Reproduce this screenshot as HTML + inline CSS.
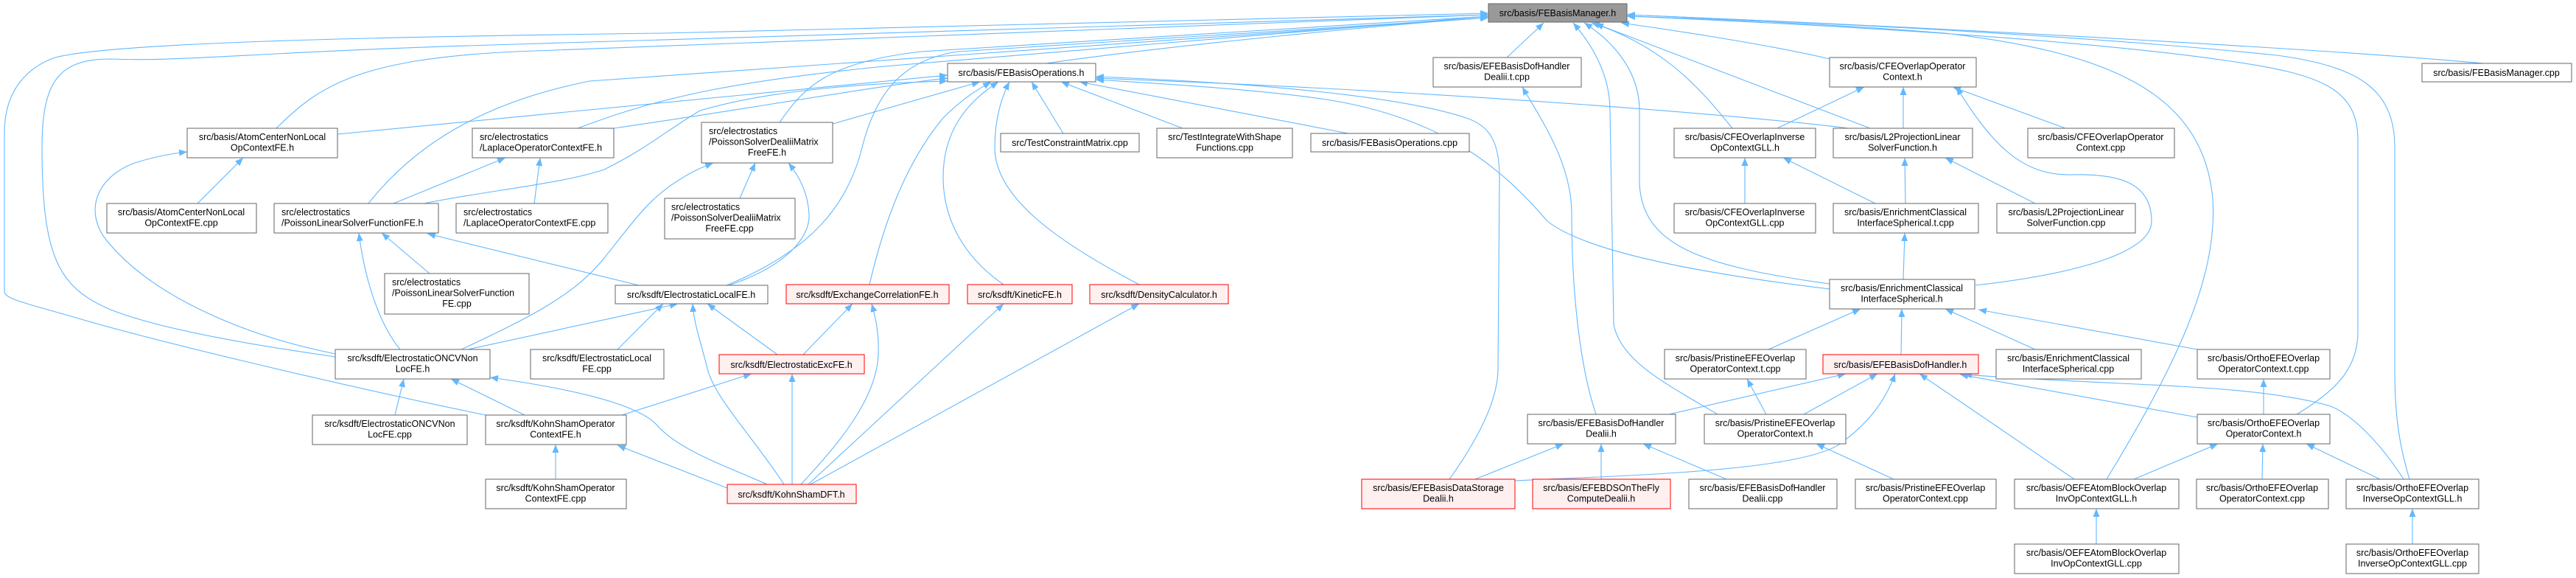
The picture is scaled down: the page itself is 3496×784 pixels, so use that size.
<!DOCTYPE html>
<html><head><meta charset="utf-8"><style>
html,body{margin:0;padding:0;background:#fff;}
svg{display:block;}
text{font-family:"Liberation Sans",Arial,sans-serif;font-size:12.5px;fill:#000;}
.n{fill:#fff;stroke:#666;stroke-width:1;}
.r{fill:#fff0f0;stroke:#f00;stroke-width:1;}
.g{fill:#999;stroke:#666;stroke-width:1;}
path.e{fill:none;stroke:#63b8ff;stroke-width:1.1;marker-end:url(#a);}
</style></head><body>
<svg width="3496" height="784" viewBox="0 0 3496 784" xmlns="http://www.w3.org/2000/svg">
<defs><marker id="a" markerUnits="userSpaceOnUse" markerWidth="12" markerHeight="9" refX="11" refY="4.5" orient="auto"><path d="M0,0 L11,4.5 L0,9 z" fill="#63b8ff"/></marker></defs>

<!-- edges to FEBasisManager.h -->
<path class="e" d="M1420,86 C1600,60 1900,32 2020,24"/>
<path class="e" d="M2045,78 L2095,31"/>
<path class="e" d="M2483,80 C2400,60 2250,38 2200,31"/>
<path class="e" d="M3370,86 C3200,70 2700,40 2208,20"/>
<path class="e" d="M375,174 C430,120 480,80 700,70 L2020,20"/>
<path class="e" d="M784,174 C900,130 1000,110 1200,90 L2020,22"/>
<path class="e" d="M1058,166 C1090,120 1120,85 1250,70 L2020,22"/>
<path class="e" d="M500,276 C560,200 650,140 800,110 L2020,24"/>
<path class="e" d="M986,387 C1100,340 1150,280 1170,200 C1190,120 1230,80 1300,70 L2020,24"/>
<path class="e" d="M455,484 C300,462 200,440 150,420 C80,390 57,350 57,200 C57,110 80,80 150,80 C250,84 350,70 700,60 L2020,20"/>
<path class="e" d="M659,563 C450,520 200,460 100,430 C30,410 6,405 6,395 L6,180 C6,120 40,90 75,78 C150,58 500,50 900,45 L2020,18"/>
<path class="e" d="M2351,174 C2300,110 2250,60 2160,31"/>
<path class="e" d="M2538,174 L2165,32"/>
<path class="e" d="M2483,385 C2300,360 2230,330 2225,250 L2225,150 C2225,90 2180,50 2150,31"/>
<path class="e" d="M2331,562 C2260,520 2200,490 2190,440 L2185,150 C2185,100 2160,60 2135,31"/>
<path class="e" d="M3117,562 C3170,530 3200,500 3200,450 L3200,190 C3200,120 3150,100 3020,82 C2800,50 2400,30 2208,22"/>
<path class="e" d="M3270,650 C3255,600 3250,560 3250,500 L3250,200 C3250,120 3200,90 3090,75 C2800,45 2400,28 2208,20"/>
<path class="e" d="M2859,650 C2950,500 3010,380 3003,270 C2990,120 2850,70 2640,45 C2450,30 2300,25 2208,22"/>

<!-- edges to FEBasisOperations.h -->
<path class="e" d="M458,182 L1286,102"/>
<path class="e" d="M833,174 C1000,150 1200,115 1286,106"/>
<path class="e" d="M1130,168 L1330,111"/>
<path class="e" d="M576,276 C650,260 760,250 820,230 C880,200 900,180 950,150 C1050,120 1200,112 1286,110"/>
<path class="e" d="M1180,386 C1200,300 1230,220 1280,160 C1310,130 1330,120 1345,111"/>
<path class="e" d="M1362,386 C1310,350 1280,300 1280,240 C1280,180 1310,140 1355,111"/>
<path class="e" d="M1546,386 C1440,330 1350,270 1350,200 C1350,160 1360,130 1370,111"/>
<path class="e" d="M1443,181 L1400,111"/>
<path class="e" d="M1605,174 L1440,111"/>
<path class="e" d="M1830,181 L1465,111"/>
<path class="e" d="M1967,650 C2010,590 2033,540 2033,500 L2035,240 C2035,190 2020,170 1990,160 C1900,130 1700,112 1487,104"/>
<path class="e" d="M2509,174 C2400,160 2000,125 1487,106"/>
<path class="e" d="M2483,392 C2300,370 2150,340 2100,300 C2040,230 1960,160 1800,135 C1700,120 1550,112 1487,108"/>

<!-- other edges -->
<path class="e" d="M268,276 L330,214"/>
<path class="e" d="M455,480 C330,455 200,400 140,320 C115,280 135,240 180,222 C210,212 235,208 254,206"/>
<path class="e" d="M534,276 L686,214"/>
<path class="e" d="M725,276 L733,214"/>
<path class="e" d="M583,371 L518,316"/>
<path class="e" d="M543,474 C515,440 495,380 487,316"/>
<path class="e" d="M867,387 L580,317"/>
<path class="e" d="M1004,269 L1025,221"/>
<path class="e" d="M626,474 C720,430 780,400 820,350 C860,300 880,270 920,245 C940,232 955,226 968,221"/>
<path class="e" d="M989,387 C1070,360 1100,320 1098,290 C1096,260 1085,240 1070,221"/>
<path class="e" d="M635,474 L920,412"/>
<path class="e" d="M838,474 L900,412"/>
<path class="e" d="M1055,481 L960,412"/>
<path class="e" d="M1064,657 C1020,590 970,540 960,500 C950,460 942,440 940,412"/>
<path class="e" d="M1090,481 L1157,412"/>
<path class="e" d="M1087,657 C1140,600 1190,540 1192,480 C1193,450 1188,430 1183,412"/>
<path class="e" d="M1075,657 L1075,507"/>
<path class="e" d="M844,563 L1020,507"/>
<path class="e" d="M1097,657 L1362,412"/>
<path class="e" d="M1100,657 L1546,412"/>
<path class="e" d="M536,563 L548,514"/>
<path class="e" d="M712,563 L612,514"/>
<path class="e" d="M1041,657 C980,630 920,610 890,575 C860,545 760,525 665,512"/>
<path class="e" d="M754,650 L754,603"/>
<path class="e" d="M987,662 L838,604"/>
<path class="e" d="M2166,562 C2145,500 2133,400 2133,290 C2133,220 2090,160 2066,118"/>
<path class="e" d="M2412,174 L2530,118"/>
<path class="e" d="M2583,174 L2583,118"/>
<path class="e" d="M2803,174 L2650,118"/>
<path class="e" d="M2681,387 C2830,370 2920,340 2920,300 C2920,250 2880,235 2810,237 C2740,238 2700,190 2655,118"/>
<path class="e" d="M2368,276 L2368,214"/>
<path class="e" d="M2545,276 L2420,214"/>
<path class="e" d="M2586,276 L2585,214"/>
<path class="e" d="M2762,276 L2640,214"/>
<path class="e" d="M2583,379 L2585,316"/>
<path class="e" d="M2400,474 L2525,419"/>
<path class="e" d="M2580,481 L2581,419"/>
<path class="e" d="M2762,474 L2640,419"/>
<path class="e" d="M2982,474 L2685,420"/>
<path class="e" d="M2265,562 L2505,507"/>
<path class="e" d="M2448,562 L2548,507"/>
<path class="e" d="M2056,652 C2200,645 2450,640 2500,600 C2540,570 2560,540 2572,507"/>
<path class="e" d="M2815,650 L2605,507"/>
<path class="e" d="M2982,566 L2660,508"/>
<path class="e" d="M3262,650 C3230,600 3190,560 3160,550 C3050,520 2900,525 2665,508"/>
<path class="e" d="M2397,562 L2371,514"/>
<path class="e" d="M2002,650 L2122,602"/>
<path class="e" d="M2173,650 L2173,602"/>
<path class="e" d="M2343,650 L2230,602"/>
<path class="e" d="M2570,650 L2465,602"/>
<path class="e" d="M3072,562 L3072,514"/>
<path class="e" d="M2896,650 L3010,602"/>
<path class="e" d="M3070,650 L3071,602"/>
<path class="e" d="M3230,650 L3130,602"/>
<path class="e" d="M2845,738 L2845,690"/>
<path class="e" d="M3274,738 L3274,690"/>

<!-- nodes -->
<rect class="g" x="2020" y="5" width="188" height="25"/><text x="2114" y="22" text-anchor="middle">src/basis/FEBasisManager.h</text>
<rect class="n" x="1286" y="86" width="201" height="25"/><text x="1386" y="103" text-anchor="middle">src/basis/FEBasisOperations.h</text>
<rect class="n" x="1945" y="78" width="201" height="40"/><text x="2045" y="94" text-anchor="middle">src/basis/EFEBasisDofHandler</text><text x="2045" y="108.5" text-anchor="middle">Dealii.t.cpp</text>
<rect class="n" x="2483" y="78" width="199" height="40"/><text x="2582" y="94" text-anchor="middle">src/basis/CFEOverlapOperator</text><text x="2582" y="108.5" text-anchor="middle">Context.h</text>
<rect class="n" x="3287" y="86" width="203" height="25"/><text x="3388" y="103" text-anchor="middle">src/basis/FEBasisManager.cpp</text>
<rect class="n" x="254" y="174" width="204" height="40"/><text x="356" y="190" text-anchor="middle">src/basis/AtomCenterNonLocal</text><text x="356" y="204.5" text-anchor="middle">OpContextFE.h</text>
<rect class="n" x="641" y="174" width="192" height="40"/><text x="651" y="190">src/electrostatics</text><text x="651" y="204.5">/LaplaceOperatorContextFE.h</text>
<rect class="n" x="952" y="166" width="178" height="55"/><text x="962" y="182">src/electrostatics</text><text x="962" y="196.5">/PoissonSolverDealiiMatrix</text><text x="1041" y="211" text-anchor="middle">FreeFE.h</text>
<rect class="n" x="1358" y="181" width="188" height="25"/><text x="1452" y="198" text-anchor="middle">src/TestConstraintMatrix.cpp</text>
<rect class="n" x="1570" y="174" width="184" height="40"/><text x="1662" y="190" text-anchor="middle">src/TestIntegrateWithShape</text><text x="1662" y="204.5" text-anchor="middle">Functions.cpp</text>
<rect class="n" x="1779" y="181" width="215" height="25"/><text x="1886" y="198" text-anchor="middle">src/basis/FEBasisOperations.cpp</text>
<rect class="n" x="2272" y="174" width="192" height="40"/><text x="2368" y="190" text-anchor="middle">src/basis/CFEOverlapInverse</text><text x="2368" y="204.5" text-anchor="middle">OpContextGLL.h</text>
<rect class="n" x="2488" y="174" width="189" height="40"/><text x="2582" y="190" text-anchor="middle">src/basis/L2ProjectionLinear</text><text x="2582" y="204.5" text-anchor="middle">SolverFunction.h</text>
<rect class="n" x="2752" y="174" width="199" height="40"/><text x="2851" y="190" text-anchor="middle">src/basis/CFEOverlapOperator</text><text x="2851" y="204.5" text-anchor="middle">Context.cpp</text>
<rect class="n" x="145" y="276" width="203" height="40"/><text x="246" y="292" text-anchor="middle">src/basis/AtomCenterNonLocal</text><text x="246" y="306.5" text-anchor="middle">OpContextFE.cpp</text>
<rect class="n" x="372" y="276" width="223" height="40"/><text x="382" y="292">src/electrostatics</text><text x="382" y="306.5">/PoissonLinearSolverFunctionFE.h</text>
<rect class="n" x="619" y="276" width="206" height="40"/><text x="629" y="292">src/electrostatics</text><text x="629" y="306.5">/LaplaceOperatorContextFE.cpp</text>
<rect class="n" x="902" y="269" width="177" height="55"/><text x="911" y="285">src/electrostatics</text><text x="911" y="299.5">/PoissonSolverDealiiMatrix</text><text x="990" y="314" text-anchor="middle">FreeFE.cpp</text>
<rect class="n" x="2272" y="276" width="192" height="40"/><text x="2368" y="292" text-anchor="middle">src/basis/CFEOverlapInverse</text><text x="2368" y="306.5" text-anchor="middle">OpContextGLL.cpp</text>
<rect class="n" x="2488" y="276" width="197" height="40"/><text x="2586" y="292" text-anchor="middle">src/basis/EnrichmentClassical</text><text x="2586" y="306.5" text-anchor="middle">InterfaceSpherical.t.cpp</text>
<rect class="n" x="2710" y="276" width="188" height="40"/><text x="2804" y="292" text-anchor="middle">src/basis/L2ProjectionLinear</text><text x="2804" y="306.5" text-anchor="middle">SolverFunction.cpp</text>
<rect class="n" x="522" y="371" width="196" height="55"/><text x="532" y="387">src/electrostatics</text><text x="532" y="401.5">/PoissonLinearSolverFunction</text><text x="620" y="416" text-anchor="middle">FE.cpp</text>
<rect class="n" x="2483" y="379" width="197" height="40"/><text x="2581" y="395" text-anchor="middle">src/basis/EnrichmentClassical</text><text x="2581" y="409.5" text-anchor="middle">InterfaceSpherical.h</text>
<rect class="n" x="835" y="387" width="207" height="25"/><text x="938" y="404" text-anchor="middle">src/ksdft/ElectrostaticLocalFE.h</text>
<rect class="r" x="1067" y="386" width="221" height="26"/><text x="1177" y="404" text-anchor="middle">src/ksdft/ExchangeCorrelationFE.h</text>
<rect class="r" x="1313" y="386" width="142" height="26"/><text x="1384" y="404" text-anchor="middle">src/ksdft/KineticFE.h</text>
<rect class="r" x="1479" y="386" width="188" height="26"/><text x="1573" y="404" text-anchor="middle">src/ksdft/DensityCalculator.h</text>
<rect class="n" x="455" y="474" width="210" height="40"/><text x="560" y="490" text-anchor="middle">src/ksdft/ElectrostaticONCVNon</text><text x="560" y="504.5" text-anchor="middle">LocFE.h</text>
<rect class="n" x="720" y="474" width="181" height="40"/><text x="810" y="490" text-anchor="middle">src/ksdft/ElectrostaticLocal</text><text x="810" y="504.5" text-anchor="middle">FE.cpp</text>
<rect class="n" x="2259" y="474" width="192" height="40"/><text x="2355" y="490" text-anchor="middle">src/basis/PristineEFEOverlap</text><text x="2355" y="504.5" text-anchor="middle">OperatorContext.t.cpp</text>
<rect class="n" x="2709" y="474" width="197" height="40"/><text x="2807" y="490" text-anchor="middle">src/basis/EnrichmentClassical</text><text x="2807" y="504.5" text-anchor="middle">InterfaceSpherical.cpp</text>
<rect class="n" x="2982" y="474" width="180" height="40"/><text x="3072" y="490" text-anchor="middle">src/basis/OrthoEFEOverlap</text><text x="3072" y="504.5" text-anchor="middle">OperatorContext.t.cpp</text>
<rect class="r" x="976" y="481" width="197" height="26"/><text x="1074" y="499" text-anchor="middle">src/ksdft/ElectrostaticExcFE.h</text>
<rect class="r" x="2474" y="481" width="211" height="26"/><text x="2579" y="499" text-anchor="middle">src/basis/EFEBasisDofHandler.h</text>
<rect class="n" x="424" y="563" width="210" height="40"/><text x="529" y="579" text-anchor="middle">src/ksdft/ElectrostaticONCVNon</text><text x="529" y="593.5" text-anchor="middle">LocFE.cpp</text>
<rect class="n" x="659" y="563" width="191" height="40"/><text x="754" y="579" text-anchor="middle">src/ksdft/KohnShamOperator</text><text x="754" y="593.5" text-anchor="middle">ContextFE.h</text>
<rect class="n" x="2073" y="562" width="201" height="40"/><text x="2173" y="578" text-anchor="middle">src/basis/EFEBasisDofHandler</text><text x="2173" y="592.5" text-anchor="middle">Dealii.h</text>
<rect class="n" x="2313" y="562" width="192" height="40"/><text x="2409" y="578" text-anchor="middle">src/basis/PristineEFEOverlap</text><text x="2409" y="592.5" text-anchor="middle">OperatorContext.h</text>
<rect class="n" x="2982" y="562" width="180" height="40"/><text x="3072" y="578" text-anchor="middle">src/basis/OrthoEFEOverlap</text><text x="3072" y="592.5" text-anchor="middle">OperatorContext.h</text>
<rect class="n" x="659" y="650" width="191" height="40"/><text x="754" y="666" text-anchor="middle">src/ksdft/KohnShamOperator</text><text x="754" y="680.5" text-anchor="middle">ContextFE.cpp</text>
<rect class="r" x="987" y="657" width="175" height="26"/><text x="1074" y="675" text-anchor="middle">src/ksdft/KohnShamDFT.h</text>
<rect class="r" x="1848" y="650" width="208" height="40"/><text x="1952" y="666" text-anchor="middle">src/basis/EFEBasisDataStorage</text><text x="1952" y="680.5" text-anchor="middle">Dealii.h</text>
<rect class="r" x="2080" y="650" width="187" height="40"/><text x="2173" y="666" text-anchor="middle">src/basis/EFEBDSOnTheFly</text><text x="2173" y="680.5" text-anchor="middle">ComputeDealii.h</text>
<rect class="n" x="2292" y="650" width="201" height="40"/><text x="2392" y="666" text-anchor="middle">src/basis/EFEBasisDofHandler</text><text x="2392" y="680.5" text-anchor="middle">Dealii.cpp</text>
<rect class="n" x="2518" y="650" width="191" height="40"/><text x="2613" y="666" text-anchor="middle">src/basis/PristineEFEOverlap</text><text x="2613" y="680.5" text-anchor="middle">OperatorContext.cpp</text>
<rect class="n" x="2734" y="650" width="223" height="40"/><text x="2845" y="666" text-anchor="middle">src/basis/OEFEAtomBlockOverlap</text><text x="2845" y="680.5" text-anchor="middle">InvOpContextGLL.h</text>
<rect class="n" x="2981" y="650" width="179" height="40"/><text x="3070" y="666" text-anchor="middle">src/basis/OrthoEFEOverlap</text><text x="3070" y="680.5" text-anchor="middle">OperatorContext.cpp</text>
<rect class="n" x="3184" y="650" width="180" height="40"/><text x="3274" y="666" text-anchor="middle">src/basis/OrthoEFEOverlap</text><text x="3274" y="680.5" text-anchor="middle">InverseOpContextGLL.h</text>
<rect class="n" x="2734" y="738" width="223" height="40"/><text x="2845" y="754" text-anchor="middle">src/basis/OEFEAtomBlockOverlap</text><text x="2845" y="768.5" text-anchor="middle">InvOpContextGLL.cpp</text>
<rect class="n" x="3184" y="738" width="180" height="40"/><text x="3274" y="754" text-anchor="middle">src/basis/OrthoEFEOverlap</text><text x="3274" y="768.5" text-anchor="middle">InverseOpContextGLL.cpp</text>
</svg>
</body></html>
